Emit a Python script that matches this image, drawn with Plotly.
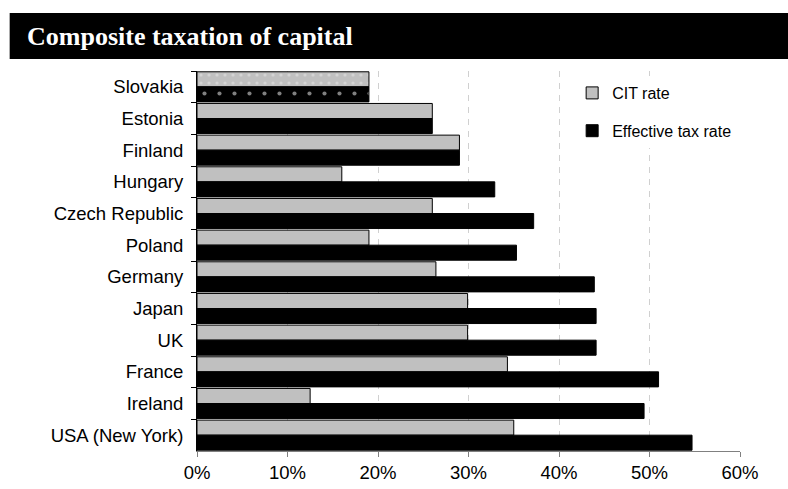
import plotly.graph_objects as go

# Countries, top to bottom
countries = ["Slovakia", "Estonia", "Finland", "Hungary", "Czech Republic", "Poland",
             "Germany", "Japan", "UK", "France", "Ireland", "USA (New York)"]

# Statutory corporate income tax rate, %
cit_rate = [19, 26, 29, 16, 26, 19, 26.4, 29.9, 29.9, 34.3, 12.5, 35.0]

# Composite effective tax rate on capital, %
effective_rate = [19, 26, 29, 32.9, 37.2, 35.3, 43.9, 44.1, 44.1, 51.0, 49.4, 54.7]

x_ticks = [0, 10, 20, 30, 40, 50, 60]
x_tick_labels = ["0%", "10%", "20%", "30%", "40%", "50%", "60%"]

GREY = "#c0c0c0"
BLACK = "#000000"
label_font = dict(family="Liberation Sans, Arial, sans-serif", size=18.5, color="black")

fig = go.Figure()

# Regular bars (all countries except the flat-tax reference, Slovakia)
fig.add_trace(go.Bar(
    y=countries[1:], x=cit_rate[1:], orientation="h", name="CIT rate",
    marker=dict(color=GREY, line=dict(color="black", width=1)),
    offsetgroup="cit", legendgroup="cit",
))
fig.add_trace(go.Bar(
    y=countries[1:], x=effective_rate[1:], orientation="h", name="Effective tax rate",
    marker=dict(color=BLACK, line=dict(color="black", width=1)),
    offsetgroup="eff", legendgroup="eff",
))

# Slovakia highlighted with a dotted fill
fig.add_trace(go.Bar(
    y=countries[:1], x=cit_rate[:1], orientation="h", name="CIT rate",
    marker=dict(color=GREY, line=dict(color="black", width=1),
                pattern=dict(shape=".", fgcolor="#e8e8e8", bgcolor=GREY,
                             size=8, solidity=0.12)),
    offsetgroup="cit", legendgroup="cit", showlegend=False,
))
fig.add_trace(go.Bar(
    y=countries[:1], x=effective_rate[:1], orientation="h", name="Effective tax rate",
    marker=dict(color=BLACK, line=dict(color="black", width=1),
                pattern=dict(shape=".", fgcolor="white", bgcolor=BLACK,
                             size=15, solidity=0.06)),
    offsetgroup="eff", legendgroup="eff", showlegend=False,
))

W, H = 788, 489
L, R, T, B = 196.5, 48, 71, 38
pw, ph = W - L - R, H - T - B

def px_to_paper_x(px):
    return (px - L) / pw

def px_to_paper_y(py):
    return 1 - (py - T) / ph

# Black title banner
fig.add_shape(type="rect", xref="paper", yref="paper",
              x0=px_to_paper_x(9), x1=px_to_paper_x(W + 2),
              y0=px_to_paper_y(59), y1=px_to_paper_y(13),
              fillcolor="black", line=dict(width=0), layer="below")

fig.update_layout(
    width=W, height=H,
    margin=dict(l=L, r=R, t=T, b=B),
    paper_bgcolor="white", plot_bgcolor="white",
    barmode="group", bargap=0.05, bargroupgap=0,
    title=dict(text="Composite taxation of capital",
               x=27 / W, xanchor="left", xref="container",
               y=1 - 36 / H, yanchor="middle", yref="container",
               font=dict(family="Liberation Serif, Times New Roman, serif",
                         size=26, color="white", weight="bold")),
    legend=dict(x=px_to_paper_x(572), y=px_to_paper_y(76),
                xanchor="left", yanchor="top",
                bgcolor="white", borderwidth=0,
                traceorder="grouped", tracegroupgap=14,
                font=dict(family="Liberation Sans, Arial, sans-serif", size=16, color="black")),
    xaxis=dict(range=[0, 60], tickmode="array", tickvals=x_ticks, ticktext=x_tick_labels,
               showgrid=True, gridcolor="#d0d0d0", griddash="6px,6px", gridwidth=1,
               zeroline=False, showline=True, linecolor="#808080", linewidth=1,
               ticks="outside", ticklen=5, tickcolor="#808080",
               tickfont=label_font, automargin=False, fixedrange=True),
    yaxis=dict(autorange="reversed", categoryorder="array", categoryarray=countries,
               showline=True, linecolor="black", linewidth=1,
               ticks="outside", ticklen=5, tickcolor="black", tickson="boundaries",
               showgrid=False, tickfont=label_font, ticklabelstandoff=9,
               automargin=False, fixedrange=True),
    showlegend=True,
)

fig.write_html("out.html")
